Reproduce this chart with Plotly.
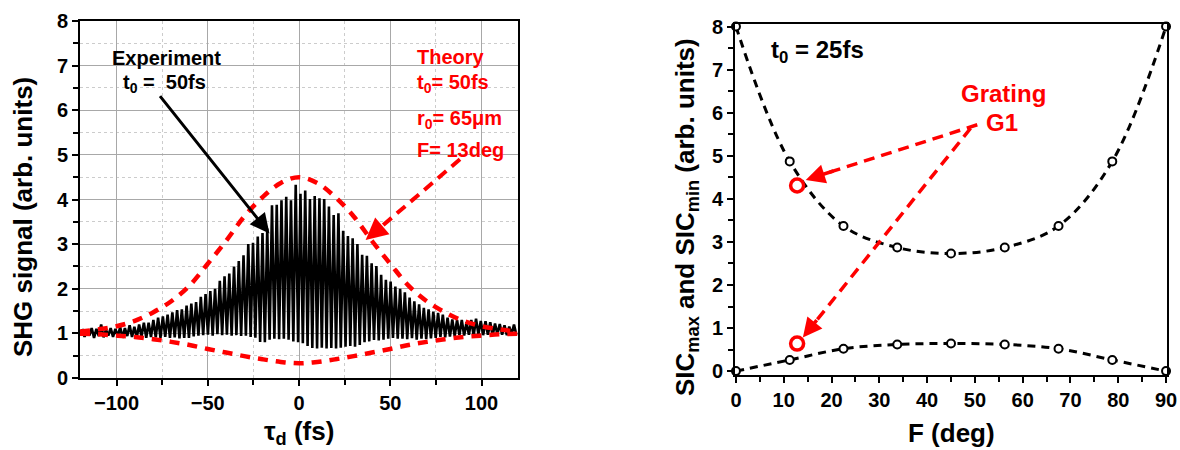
import numpy as np
import plotly.graph_objects as go

# ---------------- Left panel data ----------------
FRINGE_START = -118.8     # fs, delay of first fringe maximum
FRINGE_PERIOD = 2.6       # fs
exp_peaks = [1.10, 1.08, 1.12, 1.10, 1.20, 1.08, 1.12, 1.10, 1.14, 1.12,
             1.18, 1.15, 1.20, 1.24, 1.24, 1.30, 1.35, 1.38, 1.42, 1.47,
             1.52, 1.54, 1.62, 1.67, 1.70, 1.82, 1.88, 1.95, 2.00, 2.18,
             2.28, 2.34, 2.50, 2.62, 2.75, 3.00, 3.03, 3.17, 3.25, 3.35,
             3.87, 3.88, 3.98, 4.06, 3.98, 4.33, 4.13, 4.20, 4.01, 4.08,
             4.03, 4.01, 3.84, 3.65, 3.69, 3.30, 3.18, 3.13, 3.00, 2.76,
             2.74, 2.57, 2.51, 2.31, 2.20, 2.16, 2.05, 2.00, 1.92, 1.80,
             1.72, 1.65, 1.57, 1.54, 1.49, 1.46, 1.42, 1.35, 1.31, 1.30,
             1.30, 1.25, 1.30, 1.33, 1.28, 1.27, 1.25, 1.22, 1.21, 1.18,
             1.15, 1.20]
exp_troughs = [0.92, 0.95, 0.90, 0.94, 0.91, 0.95, 0.92, 0.93, 0.90, 0.94,
               0.92, 0.91, 0.93, 0.90, 0.92, 0.91, 0.90, 0.92, 0.90, 0.91, 0.89, 0.90,
               0.90, 0.93, 0.95, 0.96, 0.97, 0.95, 0.98, 0.96, 0.97, 0.95, 0.96, 0.94, 0.95,
               0.92, 0.90, 0.81, 0.80, 0.86,
               0.88, 0.87, 0.88, 0.86, 0.82,
               0.80, 0.78, 0.72,
               0.67, 0.66, 0.68, 0.66, 0.67, 0.66, 0.68, 0.70, 0.72, 0.70, 0.74,
               0.80, 0.82, 0.85, 0.84, 0.86, 0.88, 0.90, 0.88,
               0.88, 0.87, 0.89, 0.86, 0.88, 0.87, 0.89, 0.90, 0.92, 0.91, 0.93,
               0.94, 0.96, 0.95, 0.97, 0.95, 0.98, 0.96, 0.97, 0.95, 0.98, 0.97, 0.96, 0.98, 0.97]

theory_t = [-120, -110, -100, -90, -80, -70, -60, -50, -40, -30, -20, -10, 0,
            10, 20, 30, 40, 50, 60, 70, 80, 90, 100, 110, 120]
theory_upper = [1.04, 1.09, 1.16, 1.28, 1.47, 1.72, 2.07, 2.56, 3.07, 3.62, 4.05, 4.37, 4.50,
                4.37, 4.05, 3.62, 3.07, 2.56, 2.07, 1.72, 1.47, 1.28, 1.16, 1.09, 1.04]
theory_lower = [0.99, 0.98, 0.95, 0.92, 0.87, 0.81, 0.74, 0.65, 0.57, 0.49, 0.42, 0.36, 0.33,
                0.36, 0.42, 0.49, 0.57, 0.65, 0.74, 0.81, 0.87, 0.92, 0.95, 0.98, 0.99]

# ---------------- Right panel data ----------------
F_deg = [0, 11.25, 22.5, 33.75, 45, 56.25, 67.5, 78.75, 90]
sic_max = [8.0, 4.87, 3.37, 2.87, 2.73, 2.87, 3.37, 4.87, 8.0]
sic_min = [0.0, 0.26, 0.52, 0.62, 0.64, 0.62, 0.52, 0.26, 0.0]
g1_F = [12.8, 12.8]
g1_sic = [4.31, 0.64]

FONT = "Liberation Sans, Arial, sans-serif"
W, H = 1180, 450
RED = "#ff0000"


def px(x):
    return x / W


def py(y):
    return 1 - y / H


# build the fringe trace
n = len(exp_peaks)
t_peak = FRINGE_START + FRINGE_PERIOD * np.arange(n)
t_trough = t_peak + FRINGE_PERIOD / 2
exp_t = np.empty(2 * n)
exp_v = np.empty(2 * n)
exp_t[0::2] = t_peak
exp_t[1::2] = t_trough
exp_v[0::2] = exp_peaks
exp_v[1::2] = exp_troughs

fig = go.Figure()

fig.add_trace(go.Scatter(x=exp_t, y=exp_v, mode="lines",
                         line=dict(color="black", width=2.6),
                         xaxis="x", yaxis="y", showlegend=False, hoverinfo="skip"))
for arr in (theory_upper, theory_lower):
    fig.add_trace(go.Scatter(x=theory_t, y=arr, mode="lines",
                             line=dict(color=RED, width=4.5, dash="10px,8px", shape="spline"),
                             xaxis="x", yaxis="y", showlegend=False, hoverinfo="skip"))

for arr in (sic_max, sic_min):
    fig.add_trace(go.Scatter(x=F_deg, y=arr, mode="lines",
                             line=dict(color="black", width=3, dash="8px,6px", shape="spline"),
                             xaxis="x2", yaxis="y2", showlegend=False, hoverinfo="skip"))
    fig.add_trace(go.Scatter(x=F_deg, y=arr, mode="markers",
                             marker=dict(symbol="circle", size=8, color="white",
                                         line=dict(color="black", width=2)),
                             xaxis="x2", yaxis="y2", showlegend=False, hoverinfo="skip",
                             cliponaxis=False))
fig.add_trace(go.Scatter(x=g1_F, y=g1_sic, mode="markers",
                         marker=dict(symbol="circle", size=13, color="white",
                                     line=dict(color=RED, width=3.5)),
                         xaxis="x2", yaxis="y2", showlegend=False, hoverinfo="skip"))

tickfont = dict(family=FONT, size=20, color="black", weight="bold")

common = dict(showline=True, linecolor="black", linewidth=2, mirror=True,
              ticks="outside", ticklen=6, tickwidth=1.5, tickcolor="black",
              zeroline=False, tickfont=tickfont, automargin=False)

fig.update_layout(
    width=W, height=H,
    margin=dict(l=0, r=0, t=0, b=0, autoexpand=False),
    paper_bgcolor="white", plot_bgcolor="white",
    showlegend=False,
    xaxis=dict(domain=[px(80), px(518)], range=[-120, 120], anchor="y",
               tick0=0, dtick=50, showgrid=True, gridcolor="#a8a8a8", gridwidth=1,
               minor=dict(dtick=25, tick0=0, showgrid=True, gridcolor="#cccccc",
                          griddash="dot", ticks="outside", ticklen=5, tickcolor="black"),
               **common),
    yaxis=dict(domain=[py(378), py(21)], range=[0, 8], anchor="x",
               tick0=0, dtick=1, showgrid=True, gridcolor="#a8a8a8", gridwidth=1,
               minor=dict(dtick=0.5, tick0=0, showgrid=True, gridcolor="#cccccc",
                          griddash="dot", ticks="outside", ticklen=5, tickcolor="black"),
               **common),
    xaxis2=dict(domain=[px(735), px(1167)], range=[-0.2, 90.2], anchor="y2",
                tick0=0, dtick=10, showgrid=False,
                minor=dict(dtick=5, tick0=0, ticks="outside", ticklen=5, tickcolor="black"),
                **common),
    yaxis2=dict(domain=[py(375), py(24)], range=[-0.09, 8.06], anchor="x2",
                tick0=0, dtick=1, showgrid=False,
                minor=dict(dtick=0.5, tick0=0, ticks="outside", ticklen=5, tickcolor="black"),
                **common),
)

ann = []


def text(x, y, s, size, color="black", xanchor="left", angle=0):
    ann.append(dict(x=px(x), y=py(y), xref="paper", yref="paper", text=s,
                    showarrow=False, xanchor=xanchor, yanchor="middle", textangle=angle,
                    font=dict(family=FONT, size=size, color=color, weight="bold")))


# axis titles
text(23, 217, "SHG signal (arb. units)", 26, xanchor="center", angle=-90)
text(299, 432, "τ<sub>d</sub> (fs)", 26, xanchor="center")
text(686, 217, "SIC<sub>max</sub> and SIC<sub>min</sub> (arb. units)", 26, xanchor="center", angle=-90)
text(951, 433, "F (deg)", 26, xanchor="center")

# left annotations
text(110, 58, "Experiment", 20)
text(121, 84, "t<sub>0</sub> =  50fs", 20)
text(415, 57, "Theory", 20, RED)
text(415, 84, "t<sub>0</sub>= 50fs", 20, RED)
text(415, 119, "r<sub>0</sub>= 65μm", 20, RED)
text(415, 150, "F= 13deg", 20, RED)

# right annotations
text(769, 52, "t<sub>0</sub> = 25fs", 24)
text(1003, 93, "Grating", 24, RED, xanchor="center")
text(1002, 123, "G1", 24, RED, xanchor="center")

# black solid arrow (left)
ann.append(dict(x=-16.2, y=3.24, ax=-76.8, ay=6.35, xref="x", yref="y", axref="x", ayref="y",
                text="", showarrow=True, arrowhead=2, arrowsize=1.3, arrowwidth=3,
                arrowcolor="black"))

shapes = []


def dashed_arrow(x0, y0, x1, y1, xr, yr, width, frac):
    # dashed shaft
    shapes.append(dict(type="line", x0=x0, y0=y0, x1=x0 + (x1 - x0) * (1 - frac * 0.6),
                       y1=y0 + (y1 - y0) * (1 - frac * 0.6), xref=xr, yref=yr,
                       line=dict(color=RED, width=width, dash="11px,7px")))
    # head
    ann.append(dict(x=x1, y=y1, ax=x1 + (x0 - x1) * frac, ay=y1 + (y0 - y1) * frac,
                    xref=xr, yref=yr, axref=xr, ayref=yr, text="", showarrow=True,
                    arrowhead=2, arrowsize=1.1, arrowwidth=width, arrowcolor=RED))


dashed_arrow(88.2, 4.90, 36.5, 3.09, "x", "y", 4, 0.18)
dashed_arrow(50.5, 5.72, 14.6, 4.44, "x2", "y2", 3.5, 0.17)
dashed_arrow(49.1, 5.64, 14.0, 0.78, "x2", "y2", 3.5, 0.09)

fig.update_layout(annotations=ann, shapes=shapes)

fig.write_html("out.html")
